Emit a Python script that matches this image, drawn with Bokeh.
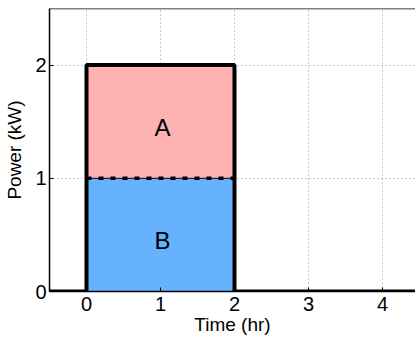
from bokeh.plotting import figure
from bokeh.models import Range1d, Span, FixedTicker
from bokeh.core.properties import value
from bokeh.embed import file_html
from bokeh.resources import INLINE

# data
profile_time = [-0.5, 0, 0, 2, 2, 6]
profile_power = [0, 0, 2, 2, 0, 0]
block_names = ["B", "A"]
block_start = [0, 0]
block_end = [2, 2]
block_bottom = [0, 1]
block_top = [1, 2]
block_colors = ["#66B2FF", "#FFB2B2"]
divider_time = [0, 2]
divider_power = [1, 1]
x_ticks = [0, 1, 2, 3, 4]
y_ticks = [0, 1, 2]

FONT = "Liberation Sans"

p = figure(width=415, height=338, output_backend="svg", toolbar_location=None,
           x_range=Range1d(-0.5, 4.446), y_range=Range1d(0, 2.5),
           min_border_left=49, min_border_right=0, min_border_top=8, min_border_bottom=47)
p.outline_line_color = None
p.background_fill_color = "white"
p.border_fill_color = "white"

p.quad(left=block_start, right=block_end, bottom=block_bottom, top=block_top,
       fill_color=block_colors, line_color=None)
p.line(divider_time, divider_power, line_color="black", line_width=1)
p.line(divider_time, divider_power, line_color="black", line_width=3.5, line_dash="5 7")
p.line(profile_time, profile_power, line_color="black", line_width=4)

for name, x0, x1, y0, y1 in zip(block_names, block_start, block_end, block_bottom, block_top):
    p.text(x=[(x0 + x1) / 2], y=[(y0 + y1) / 2], text=[name], text_align="center",
           text_baseline="middle", text_font=value(FONT), text_font_size="24px",
           text_color="black", x_offset=2, y_offset=6)

p.add_layout(Span(location=2.5, dimension="width", line_color="black", line_width=1.5))

for ax in (p.xaxis[0], p.yaxis[0]):
    ax.axis_line_color = "black"
    ax.axis_line_width = 1.5
    ax.major_tick_in = 4
    ax.major_tick_out = 0
    ax.minor_tick_line_color = None
    ax.major_label_text_font = FONT
    ax.major_label_text_font_size = "20px"
    ax.major_label_text_color = "black"
    ax.axis_label_text_font = FONT
    ax.axis_label_text_font_size = "19px"
    ax.axis_label_text_font_style = "normal"
    ax.axis_label_text_color = "black"

p.xaxis.ticker = FixedTicker(ticks=x_ticks)
p.yaxis.ticker = FixedTicker(ticks=y_ticks)
p.xaxis.axis_label = "Time (hr)"
p.yaxis.axis_label = "Power (kW)"
p.xaxis.major_label_standoff = 5
p.xaxis.axis_label_standoff = 0
p.yaxis.major_label_standoff = 3
p.yaxis.axis_label_standoff = 7

p.xgrid.ticker = FixedTicker(ticks=x_ticks)
p.ygrid.ticker = FixedTicker(ticks=y_ticks)
for g in (p.xgrid[0], p.ygrid[0]):
    g.grid_line_color = "#999999"
    g.grid_line_dash = "1 3"
    g.grid_line_width = 1

open("out.html", "w").write(file_html(p, INLINE))
